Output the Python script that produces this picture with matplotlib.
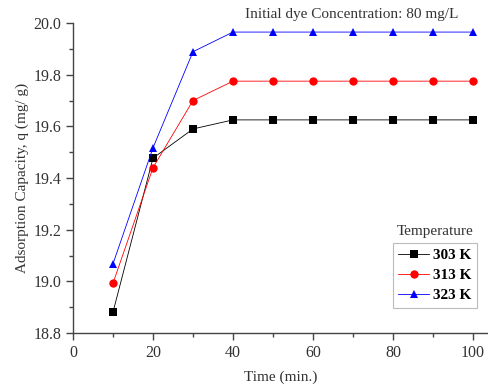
import matplotlib
matplotlib.use("Agg")
import matplotlib.pyplot as plt
from matplotlib.ticker import MultipleLocator

time = [10, 20, 30, 40, 50, 60, 70, 80, 90, 100]
q_303 = [18.881, 19.477, 19.59, 19.625, 19.625, 19.625, 19.625, 19.625, 19.625, 19.625]
q_313 = [18.993, 19.44, 19.70, 19.775, 19.775, 19.775, 19.775, 19.775, 19.775, 19.775]
q_323 = [19.068, 19.517, 19.889, 19.965, 19.965, 19.965, 19.965, 19.965, 19.965, 19.965]
labels = ["303 K", "313 K", "323 K"]

plt.rcParams['font.family'] = ['Liberation Serif', 'DejaVu Serif']
fig = plt.figure(figsize=(4.89, 3.87), dpi=100)
ax = fig.add_axes([0.1493, 0.1395, 0.8507, 0.801])

styles = [("black", "s"), ("red", "o"), ("blue", "^")]
for ys, lab, (c, m) in zip([q_303, q_313, q_323], labels, styles):
    ax.plot(time, ys, color=c, lw=0.6, marker=m, markersize=6, markeredgewidth=0, label=lab)

ax.set_xlim(0, 104)
ax.set_ylim(18.8, 20.0)
ax.xaxis.set_major_locator(MultipleLocator(20))
ax.xaxis.set_minor_locator(MultipleLocator(10))
ax.yaxis.set_major_locator(MultipleLocator(0.2))
ax.yaxis.set_minor_locator(MultipleLocator(0.1))
ax.yaxis.set_major_formatter(plt.FormatStrFormatter('%.1f'))
ax.spines['top'].set_visible(False)
ax.spines['right'].set_visible(False)
for s in ['left', 'bottom']:
    ax.spines[s].set_color('#444444')
    ax.spines[s].set_linewidth(1.0)
ax.tick_params(which='major', length=5, width=1, color='#444444', labelsize=11.5, labelcolor='#333333')
ax.tick_params(which='minor', length=3, width=1, color='#444444')

ax.set_xlabel("Time (min.)", fontsize=11, color='#333333', labelpad=7)
ax.set_ylabel("Adsorption Capacity, q (mg/ g)", fontsize=11, color='#333333', labelpad=3)

ax.text(0.67, 1.026, "Initial dye Concentration: 80 mg/L", transform=ax.transAxes,
        ha='center', va='center', fontsize=11, color='#333333')

leg = ax.legend(loc='upper left', bbox_to_anchor=(0.769, 0.290), frameon=True, fancybox=False,
                prop={'weight': 'bold', 'size': 11}, handlelength=2.0, handletextpad=0.3,
                borderpad=0.35, labelspacing=0.42, borderaxespad=0)
leg.get_frame().set_edgecolor('#aaaaaa')
leg.get_frame().set_linewidth(0.8)
ax.text(0.870, 0.329, "Temperature", transform=ax.transAxes, ha='center', va='center',
        fontsize=11, color='#333333')

fig.savefig("out.png", dpi=100)
